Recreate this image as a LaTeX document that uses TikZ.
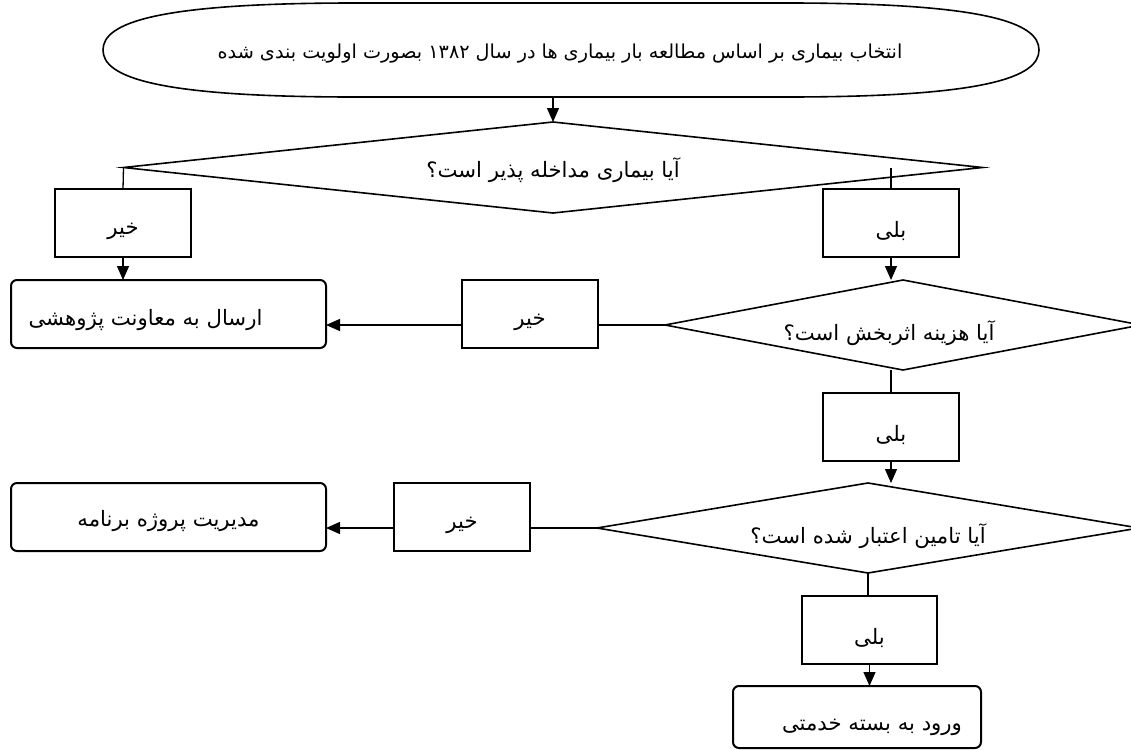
\documentclass[tikz,border=0pt]{standalone}
\usepackage{fontspec}
\newfontfamily\fa[Script=Arabic]{DejaVu Sans}
\TeXXeTstate=1
\usetikzlibrary{shapes.geometric,arrows.meta}
\newcommand{\gap}[1]{\rule{#1}{0pt}}
\newcommand{\dropby}[2]{\raisebox{-#1}[\height][\depth]{\fa #2}}
\begin{document}
\begin{tikzpicture}[x=0.5pt,y=-0.5pt,
  every node/.style={inner sep=0pt, outer sep=0pt},
  txt/.style={font=\fa\fontsize{10.6}{12}\selectfont},
  dec/.style={txt, shape=diamond, draw, line width=0.8pt},
  ans/.style={txt, rectangle, draw, line width=1pt, minimum width=68pt, minimum height=34pt},
  res/.style={txt, rectangle, rounded corners=3pt, draw, line width=1pt, minimum height=34pt},
  conn/.style={line width=0.65pt},
  arr/.style={conn, -{Triangle[length=7pt,width=6pt]}}
]
\useasboundingbox (0,0) rectangle (1131,750);
\clip (0,0) rectangle (1131,750);

% start (flattened ellipse)
\node[minimum width=468pt, minimum height=47pt,
      font=\fa\fontsize{9.6}{11}\selectfont] (e) at (571,50)
  {\dropby{2pt}{\beginR انتخاب بیماری بر اساس مطالعه بار بیماری ها در سال ۱۳۸۲ بصورت اولویت بندی شده\endR}\gap{11pt}};
\draw[line width=0.8pt] (e.west) .. controls +(0,-27) and +(-200,0) .. (355,3)
  -- (787,3) .. controls +(200,0) and +(0,-27) .. (e.east)
  .. controls +(0,27) and +(200,0) .. (787,97)
  -- (355,97) .. controls +(-200,0) and +(0,27) .. (e.west) -- cycle;

% decisions
\node[dec, shape aspect=9.44, minimum width=429.5pt, minimum height=45.5pt] (d1) at (553,167.5)
  {\dropby{1.5pt}{\beginR آیا بیماری مداخله پذیر است؟\endR}};
\node[dec, shape aspect=5.29, minimum width=238pt, minimum height=45pt] (d2) at (903,325)
  {\dropby{4pt}{\beginR آیا هزینه اثربخش است؟\endR}\gap{14pt}};
\node[dec, shape aspect=6.02, minimum width=271pt, minimum height=45pt] (d3) at (868,528)
  {\dropby{4pt}{\beginR آیا تامین اعتبار شده است؟\endR}};

% answers
\node[ans] (no1) at (123,223) {\dropby{4pt}{\beginR خیر\endR}};
\node[ans] (yes1) at (891,223) {\dropby{4pt}{\beginR بلی\endR}};
\node[ans] (no2) at (530,314) {\dropby{4pt}{\beginR خیر\endR}};
\node[ans] (yes2) at (891,426.5) {\dropby{4pt}{\beginR بلی\endR}};
\node[ans] (no3) at (462,517) {\dropby{4pt}{\beginR خیر\endR}};
\node[ans, minimum width=67.5pt] (yes3) at (869.5,630) {\dropby{4pt}{\beginR بلی\endR}};

% results
\node[res, minimum width=157.5pt] (r1) at (168.5,314)
  {\dropby{3pt}{\beginR ارسال به معاونت پژوهشی\endR}\gap{23pt}};
\node[res, minimum width=157.5pt] (r2) at (168.5,517)
  {\dropby{2pt}{\beginR مدیریت پروژه برنامه\endR}};
\node[res, minimum width=124pt, minimum height=31pt] (r3) at (857,717)
  {\gap{15pt}\dropby{5pt}{\beginR ورود به بسته خدمتی\endR}};

% connectors
\draw[arr] (e.south -| d1.north) -- (d1.north);
\draw[conn] (d1.west) -- (no1.north);
\draw[arr] (no1.south) -- (no1.south |- r1.north);
\draw[conn] (yes1.north |- d1.east) -- (yes1.north);
\draw[arr] (yes1.south) -- (yes1.south |- d2.north);
\draw[conn] (d2.west) -- (d2.west -| no2.east);
\draw[arr] (no2.west |- d2.west) -- (r1.east |- d2.west);
\draw[conn] (yes2.north |- d2.south) -- (yes2.north);
\draw[arr] (yes2.south) -- (yes2.south |- d3.north);
\draw[conn] (d3.west) -- (d3.west -| no3.east);
\draw[arr] (no3.west |- d3.west) -- (r2.east |- d3.west);
\draw[conn] (d3.south) -- (d3.south |- yes3.north);
\draw[arr] (yes3.south) -- (yes3.south |- r3.north);
\end{tikzpicture}
\end{document}
